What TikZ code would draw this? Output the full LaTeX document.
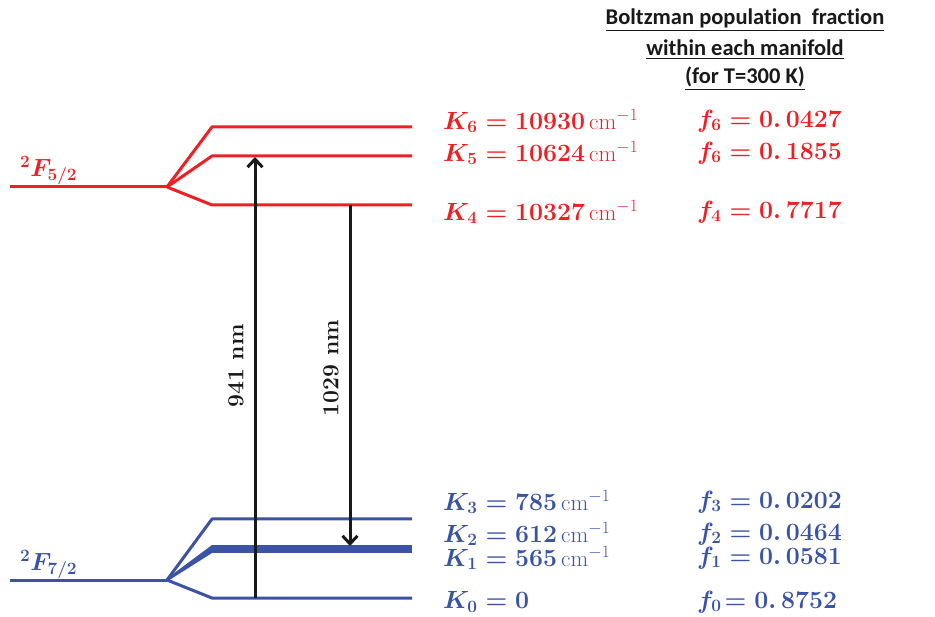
\documentclass[tikz,border=0pt]{standalone}
\usepackage{amsmath,bm}
\usepackage{fontspec}
\newfontfamily\hdrfont[Ligatures={NoCommon}]{Carlito}
\definecolor{lvred}{RGB}{237,32,36}
\definecolor{lvblue}{RGB}{58,83,164}
\definecolor{arrk}{RGB}{25,25,25}
\usetikzlibrary{arrows.meta}
\newcommand{\cmunit}{{\mdseries\unboldmath\fontsize{23}{26}\selectfont cm$^{-1}$}}
\begin{document}
\begin{tikzpicture}[x=1pt,y=-1pt,
  redlv/.style={draw=lvred,line width=3pt},
  bluelv/.style={draw=lvblue,line width=3pt},
  trans/.style={draw=arrk,line width=3pt,-{Straight Barb[length=8pt,width=15pt,line width=3pt]}},
  lbl/.style={anchor=west,inner sep=0pt,font=\fontsize{24}{28}\selectfont\boldmath},
  wl/.style={rotate=90,inner sep=0pt,font=\fontsize{23}{26}\selectfont\bfseries,text=arrk},
  term/.style={anchor=west,inner sep=0pt,font=\fontsize{26}{30}\selectfont\boldmath},
  hdr/.style={inner sep=0pt,font=\hdrfont\bfseries\fontsize{22.5}{26}\selectfont,text=arrk}]
\useasboundingbox (0,0) rectangle (935,617);
% red manifold
\coordinate (rb0) at (10,187);
\coordinate (rb) at (167,187);
\coordinate (k6a) at (212,127); \coordinate (k6b) at (412,127);
\coordinate (k5a) at (212,156); \coordinate (k5b) at (412,156);
\coordinate (k4a) at (212,205); \coordinate (k4b) at (412,205);
\draw[redlv] (rb0) -- (rb);
\draw[redlv,line join=round] (rb) -- (k6a) -- (k6b);
\draw[redlv,line join=round] (rb) -- (k5a) -- (k5b);
\draw[redlv,line join=round] (rb) -- (k4a) -- (k4b);
% blue manifold
\coordinate (bb0) at (10,580);
\coordinate (bb) at (167,580);
\coordinate (k3a) at (212,519); \coordinate (k3b) at (412,519);
\coordinate (k2a) at (212,549); \coordinate (k2b) at (412,549);
\coordinate (k0a) at (212,598); \coordinate (k0b) at (412,598);
\draw[bluelv] (bb0) -- (bb);
\draw[bluelv,line join=round] (bb) -- (k3a) -- (k3b);
\fill[lvblue] (167,578.5) -- (212,545) -- (212,553) -- (167,581.5) -- cycle;
\draw[draw=lvblue,line width=8pt] (k2a) -- (k2b);
\draw[bluelv,line join=round] (bb) -- (k0a) -- (k0b);
% transitions
\coordinate (upS) at (255,598); \coordinate (upE) at (255,157);
\coordinate (dnS) at (350,205); \coordinate (dnE) at (350,546);
\draw[trans] (upS) -- (upE);
\draw[trans] (dnS) -- (dnE);
\node[wl] (w1) at (236,366) {941 nm};
\node[wl] (w2) at (331,368) {1029 nm};
% term labels
\node[term,text=lvred] (t1) at (20,171) {$^{2}\bm{F}_{5/2}$};
\node[term,text=lvblue] (t2) at (20,565) {$^{2}\bm{F}_{7/2}$};
% header
\node[hdr] (h1) at (745,20) {\underline{Boltzman population\ \ fraction}};
\node[hdr] (h2) at (745,50) {\underline{within each manifold}};
\node[hdr] (h3) at (745,79) {\underline{(for T=300 K)}};
% red labels
\node[lbl,text=lvred] (l6) at (443,121) {$\bm{K_6=10930}$\,\cmunit};
\node[lbl,text=lvred] (l5) at (443,153) {$\bm{K_5=10624}$\,\cmunit};
\node[lbl,text=lvred] (l4) at (443,212) {$\bm{K_4=10327}$\,\cmunit};
\node[lbl,text=lvred] (f6) at (697,121) {$\bm{f_6=0.\,0427}$};
\node[lbl,text=lvred] (f5) at (697,153) {$\bm{f_6=0.\,1855}$};
\node[lbl,text=lvred] (f4) at (697,212) {$\bm{f_4=0.\,7717}$};
% blue labels
\node[lbl,text=lvblue] (l3) at (443,502) {$\bm{K_3=785}$\,\cmunit};
\node[lbl,text=lvblue] (l2) at (443,534) {$\bm{K_2=612}$\,\cmunit};
\node[lbl,text=lvblue] (l1) at (443,558) {$\bm{K_1=565}$\,\cmunit};
\node[lbl,text=lvblue] (l0) at (443,602) {$\bm{K_0=0}$};
\node[lbl,text=lvblue] (f3) at (697,502) {$\bm{f_3=0.\,0202}$};
\node[lbl,text=lvblue] (f2) at (697,534) {$\bm{f_2=0.\,0464}$};
\node[lbl,text=lvblue] (f1) at (697,558) {$\bm{f_1=0.\,0581}$};
\node[lbl,text=lvblue] (f0) at (697,602) {$\bm{f_0\!=0.\,8752}$};
\end{tikzpicture}
\end{document}
